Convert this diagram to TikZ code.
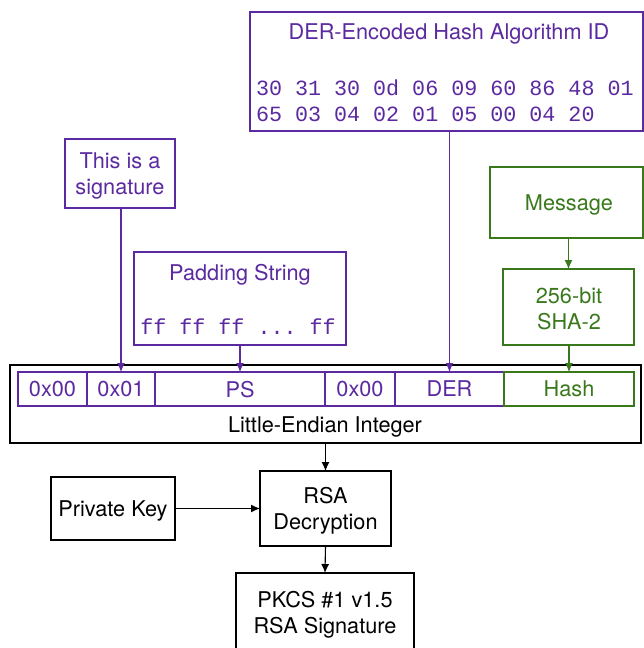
\documentclass[tikz,border=0pt]{standalone}
\usepackage{fontspec}
\setmainfont{TeX Gyre Heros}
\setsansfont{TeX Gyre Heros}
\setmonofont{Liberation Mono}
\usetikzlibrary{arrows.meta}
\definecolor{purp}{RGB}{92,42,160}
\definecolor{grn}{RGB}{58,120,28}
\begin{document}
\begin{tikzpicture}[x=1pt,y=-1pt,
  every node/.style={font=\fontsize{21.7}{26}\selectfont, inner sep=0pt, outer sep=0pt, text depth=0pt},
  box/.style={draw, line width=1.1pt, rectangle},
  pbox/.style={box, draw=purp},
  gbox/.style={box, draw=grn},
  cell/.style={draw=purp, line width=1.1pt, rectangle, minimum height=34pt, text=purp},
  arr/.style={line width=1.1pt, -{Latex[length=9pt,width=8pt]}},
  lbl/.style={align=center}
]
\useasboundingbox (0,0) rectangle (644,648);
\fill[white] (0,0) rectangle (644,648);

% top boxes
\node[pbox, minimum width=393pt, minimum height=119pt] (der) at (446.5,71.5) {};
\node[lbl, text=purp] (dertitle) at (449,32) {DER-Encoded Hash Algorithm ID};
\node[text=purp, align=left, anchor=west, font=\ttfamily\fontsize{21.7}{26}\selectfont] (derhex) at (256,101) {30 31 30 0d 06 09 60 86 48 01\\65 03 04 02 01 05 00 04 20};

\node[pbox, minimum width=110pt, minimum height=69pt] (sig) at (120,173.5) {};
\node[lbl, text=purp] (sigtxt) at (120,173.5) {This is a\\signature};

\node[pbox, minimum width=212pt, minimum height=93pt] (pad) at (240,298.5) {};
\node[lbl, text=purp] (padtitle) at (240,272) {Padding String};
\node[text=purp, font=\ttfamily\fontsize{21.7}{26}\selectfont] (padff) at (238,327) {ff ff ff ... ff};

\node[gbox, minimum width=153pt, minimum height=71pt] (msg) at (566.5,202.5) {};
\node[lbl, text=grn] (msgtxt) at (569,203) {Message};

\node[gbox, minimum width=131pt, minimum height=76pt] (sha) at (568.5,307) {};
\node[lbl, text=grn] (shatxt) at (569,309) {256-bit\\SHA-2};

% outer integer box
\node[box, minimum width=631pt, minimum height=78pt] (outer) at (325.5,404) {};
\node[lbl] (outertxt) at (325,425) {Little-Endian Integer};

% cells
\node[cell, minimum width=69pt] (c1) at (52.5,389) {0x00};
\node[cell, minimum width=68pt] (c2) at (121,389) {0x01};
\node[cell, minimum width=170pt] (c3) at (240,389) {PS};
\node[cell, minimum width=70pt] (c4) at (360,389) {0x00};
\node[cell, minimum width=109pt] (c5) at (449.5,389) {DER};
\node[cell, draw=grn, text=grn, minimum width=130pt] (c6) at (569,389) {Hash};

% bottom
\node[box, minimum width=131pt, minimum height=75pt, align=center] (rsa) at (325.5,508.5) {RSA\\Decryption};
\node[box, minimum width=124pt, minimum height=63pt] (pk) at (113,508.5) {Private Key};
\node[box, minimum width=178pt, minimum height=79pt, align=center] (pkcs) at (325,612.5) {PKCS \#1 v1.5\\RSA Signature};

% arrows
\draw[arr, draw=purp, fill=purp] (sig.south -| c2) -- (c2.north);
\draw[arr, draw=purp, fill=purp] (pad.south) -- (c3.north);
\draw[arr, draw=purp, fill=purp] (der.south -| c5) -- (c5.north);
\draw[arr, draw=grn, fill=grn] (msg.south -| sha) -- (sha.north);
\draw[arr, draw=grn, fill=grn] (sha.south -| c6) -- (c6.north);
\draw[arr] (outer.south) -- (rsa.north);
\draw[arr] (pk.east) -- (rsa.west);
\draw[arr] (rsa.south) -- (pkcs.north);
\end{tikzpicture}
\end{document}
